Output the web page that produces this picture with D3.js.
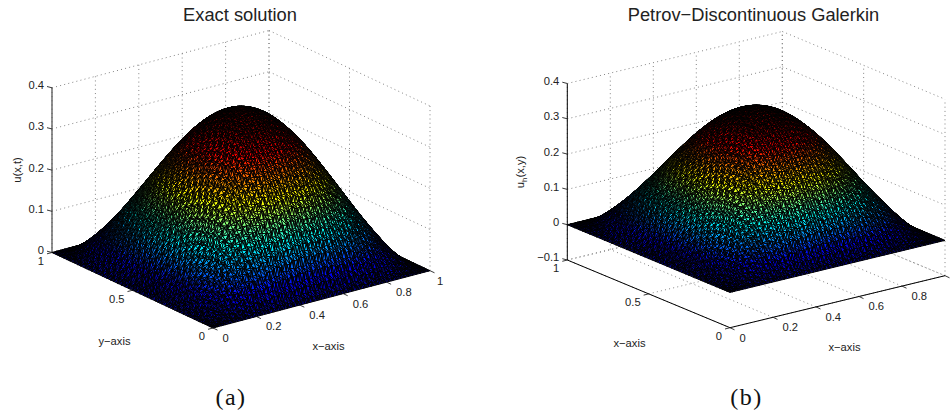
<!DOCTYPE html>
<html><head><meta charset="utf-8">
<script src="https://cdn.jsdelivr.net/npm/d3@7"></script>
<style>html,body{margin:0;padding:0;background:#fff}svg{display:block}text{font-family:"Liberation Sans",Arial,sans-serif;fill:#222}</style>
</head><body><svg id="c" width="951" height="418"></svg>
<script>
const xTicks=[0,.2,.4,.6,.8,1];
const yTicks=[0,.5,1];
const zTicksA=[0,.1,.2,.3,.4];
const zTicksB=[-.1,0,.1,.2,.3,.4];
const surfaceA=[
[0,0,0,0,0,0,0,0,0,0,0],
[0,.035,.067,.0925,.109,.114,.109,.0925,.067,.035,0],
[0,.067,.128,.176,.207,.218,.207,.176,.128,.067,0],
[0,.0925,.176,.242,.285,.299,.285,.242,.176,.0925,0],
[0,.109,.207,.285,.335,.352,.335,.285,.207,.109,0],
[0,.114,.218,.299,.352,.37,.352,.299,.218,.114,0],
[0,.109,.207,.285,.335,.352,.335,.285,.207,.109,0],
[0,.0925,.176,.242,.285,.299,.285,.242,.176,.0925,0],
[0,.067,.128,.176,.207,.218,.207,.176,.128,.067,0],
[0,.035,.067,.0925,.109,.114,.109,.0925,.067,.035,0],
[0,0,0,0,0,0,0,0,0,0,0]];
const surfaceB=[
[0,0,0,0,0,0,0,0,0,0,0],
[0,.033,.064,.088,.104,.108,.104,.088,.064,.033,0],
[0,.064,.122,.167,.197,.207,.197,.167,.122,.064,0],
[0,.088,.167,.230,.271,.284,.271,.230,.167,.088,0],
[0,.104,.197,.271,.319,.335,.319,.271,.197,.104,0],
[0,.108,.207,.284,.335,.352,.335,.284,.207,.108,0],
[0,.104,.197,.271,.319,.335,.319,.271,.197,.104,0],
[0,.088,.167,.230,.271,.284,.271,.230,.167,.088,0],
[0,.064,.122,.167,.197,.207,.197,.167,.122,.064,0],
[0,.033,.064,.088,.104,.108,.104,.088,.064,.033,0],
[0,0,0,0,0,0,0,0,0,0,0]];
const panels=[
 {title:"Exact solution",titleX:240,caption:"(a)",capX:231,surface:surfaceA,zTicks:zTicksA,zDomain:[0,.4],xLabelTicks:xTicks,
  o:[213,328],ex:[217,-57.3],ey:[-161,-75.5],zH:164.7,axisColor:"#555",axisW:1.3,showFloorAxes:false,
  zLabel:["u(x,t)"],zLabelX:21,zLabelY:170,yLabel:"y\u2212axis",yLabelPos:[114.5,345],xLabel:"x\u2212axis",xLabelPos:[328.5,350]},
 {title:"Petrov\u2212Discontinuous Galerkin",titleX:753.5,caption:"(b)",capX:746.5,surface:surfaceB,zTicks:zTicksB,zDomain:[-.1,.4],xLabelTicks:xTicks.slice(0,5),
  o:[730,327.7],ex:[215,-52],ey:[-162.7,-67.7],zH:176.5,axisColor:"#000",axisW:1,showFloorAxes:true,
  zLabel:["u","h","(x,y)"],zLabelX:524,zLabelY:172,yLabel:"x\u2212axis",yLabelPos:[629.5,347],xLabel:"x\u2212axis",xLabelPos:[844.5,351]}
];
const jet=d3.scaleLinear().domain([0,.125,.375,.625,.875,1]).range(["#000090","#0000ff","#00ffff","#ffff00","#ff0000","#800000"]).clamp(true);
const svg=d3.select("#c");
const MESH=88;
function cr(p0,p1,p2,p3,t){return .5*((2*p1)+(-p0+p2)*t+(2*p0-5*p1+4*p2-p3)*t*t+(-p0+3*p1-3*p2+p3)*t*t*t);}
function sampler(T){const N=T.length-1,g=(i,j)=>T[Math.max(0,Math.min(N,i))][Math.max(0,Math.min(N,j))];
 const col=d3.scaleLinear().domain([0,1]).range([0,N]);
 return (x,y)=>{const a=col(x),b=col(y),i=Math.max(0,Math.min(N-1,Math.floor(a))),j=Math.max(0,Math.min(N-1,Math.floor(b))),s=a-i,t=b-j;
  const r=[-1,0,1,2].map(k=>cr(g(i+k,j-1),g(i+k,j),g(i+k,j+1),g(i+k,j+2),t));
  return Math.max(0,cr(r[0],r[1],r[2],r[3],s));};}
// unstructured look: mesh nodes are nudged off the lattice by a fixed quasi-periodic offset (geometry only)
const h=1/MESH;
const node=(i,j)=>{
 const edgeI=i===0||i===MESH,edgeJ=j===0||j===MESH;
 const dx=edgeI?0:.2*h*Math.sin(i*2.399+j*1.137)+.08*h*Math.sin(j*0.713-i*3.1);
 const dy=edgeJ?0:.2*h*Math.sin(j*2.113-i*1.871)+.08*h*Math.sin(i*0.631+j*2.9);
 return [i*h+dx+((j%2)&&!edgeI?.25*h:0),j*h+dy];};
panels.forEach(P=>{
 const g=svg.append("g");
 const xX=d3.scaleLinear([0,1],[0,P.ex[0]]),xY=d3.scaleLinear([0,1],[0,P.ex[1]]);
 const yX=d3.scaleLinear([0,1],[0,P.ey[0]]),yY=d3.scaleLinear([0,1],[0,P.ey[1]]);
 const zY=d3.scaleLinear(P.zDomain,[0,-P.zH]);
 const proj=(x,y,z)=>[P.o[0]+xX(x)+yX(y),P.o[1]+xY(x)+yY(y)+zY(z)];
 const zmin=P.zDomain[0],zmax=P.zDomain[1];
 const line=(a,b)=>{const l=d3.path();l.moveTo(...a);l.lineTo(...b);return g.append("path").attr("d",l.toString()).attr("fill","none");};
 const dotted=(a,b)=>line(a,b).attr("stroke","#777").attr("stroke-width",.9).attr("stroke-dasharray","1 3.2");
 P.zTicks.forEach(z=>{dotted(proj(0,1,z),proj(1,1,z));dotted(proj(1,1,z),proj(1,0,z));});
 xTicks.forEach(x=>{dotted(proj(x,1,zmin),proj(x,1,zmax));dotted(proj(x,0,zmin),proj(x,1,zmin));});
 yTicks.forEach(y=>{dotted(proj(1,y,zmin),proj(1,y,zmax));dotted(proj(0,y,zmin),proj(1,y,zmin));});
 line(proj(0,1,zmin),proj(0,1,zmax)).attr("stroke",P.axisColor).attr("stroke-width",P.axisW);
 if(P.showFloorAxes){
  line(proj(0,0,zmin),proj(1,0,zmin)).attr("stroke","#000").attr("stroke-width",1);
  line(proj(0,0,zmin),proj(0,1,zmin)).attr("stroke","#000").attr("stroke-width",1);
 }
 const f=sampler(P.surface);
 const top=d3.max(P.surface.flat());
 const colr=d3.scaleLinear([0,top*.93],[0,1]);
 const gs=g.append("g").attr("stroke","#000").attr("stroke-width",.97).attr("stroke-linejoin","round");
 const tri=(a,b,c)=>{const p=d3.path(),za=f(a[0],a[1]),zb=f(b[0],b[1]),zc=f(c[0],c[1]),A=proj(a[0],a[1],za),B=proj(b[0],b[1],zb),C=proj(c[0],c[1],zc);
  p.moveTo(...A);p.lineTo(...B);p.lineTo(...C);p.closePath();
  gs.append("path").attr("d",p.toString()).attr("fill",jet(colr((za+zb+zc)/3)));};
 for(let i=MESH-1;i>=0;i--)for(let j=MESH-1;j>=0;j--){
  const a=node(i,j),b=node(i+1,j),c=node(i,j+1),d=node(i+1,j+1);
  if(j%2){tri(d,c,b);tri(c,b,a);}
  else{tri(d,c,a);tri(d,b,a);}
 }
 const tk=(a,d)=>line(a,[a[0]+d[0],a[1]+d[1]]).attr("stroke","#222").attr("stroke-width",.9);
 P.zTicks.forEach(z=>tk(proj(0,1,z),[-5,-1.3]));
 xTicks.forEach(x=>tk(proj(x,0,zmin),[4.5,2.1]));
 yTicks.forEach(y=>tk(proj(0,y,zmin),[-5,1.3]));
 const fmt=v=>String(v).replace("-","\u2212");
 const txt=(s,x,y,a,fs)=>g.append("text").attr("x",x).attr("y",y).attr("text-anchor",a).attr("font-size",fs).attr("dominant-baseline","middle").text(s);
 P.zTicks.forEach(z=>{const p=proj(0,1,z);txt(fmt(z),p[0]-8,p[1]-1.5,"end",11.2);});
 P.xLabelTicks.forEach(x=>{const p=proj(x,0,zmin);txt(fmt(x),p[0]+(x===1?7:9.5),p[1]+11,"start",11.2);});
 yTicks.forEach(y=>{const p=proj(0,y,zmin);txt(fmt(y),p[0]-8,p[1]+9.5,"end",11.2);});
 g.append("text").attr("x",P.titleX).attr("y",21).attr("text-anchor","middle").attr("font-size",18.3).text(P.title);
 g.append("text").attr("x",P.xLabelPos[0]).attr("y",P.xLabelPos[1]).attr("text-anchor","middle").attr("font-size",11.2).text(P.xLabel);
 g.append("text").attr("x",P.yLabelPos[0]).attr("y",P.yLabelPos[1]).attr("text-anchor","middle").attr("font-size",11.2).text(P.yLabel);
 const zl=g.append("text").attr("transform",`translate(${P.zLabelX},${P.zLabelY}) rotate(-90)`).attr("text-anchor","middle").attr("font-size",11.2);
 if(P.zLabel.length===1) zl.text(P.zLabel[0]);
 else{zl.append("tspan").text(P.zLabel[0]);zl.append("tspan").attr("font-size",8).attr("dy",3).text(P.zLabel[1]);zl.append("tspan").attr("dy",-3).text(P.zLabel[2]);}
 g.append("text").attr("x",P.capX).attr("y",405).attr("text-anchor","middle").attr("font-size",24).attr("letter-spacing",1.5).style("font-family","'Liberation Serif',serif").style("fill","#111").text(P.caption);
});
</script></body></html>
